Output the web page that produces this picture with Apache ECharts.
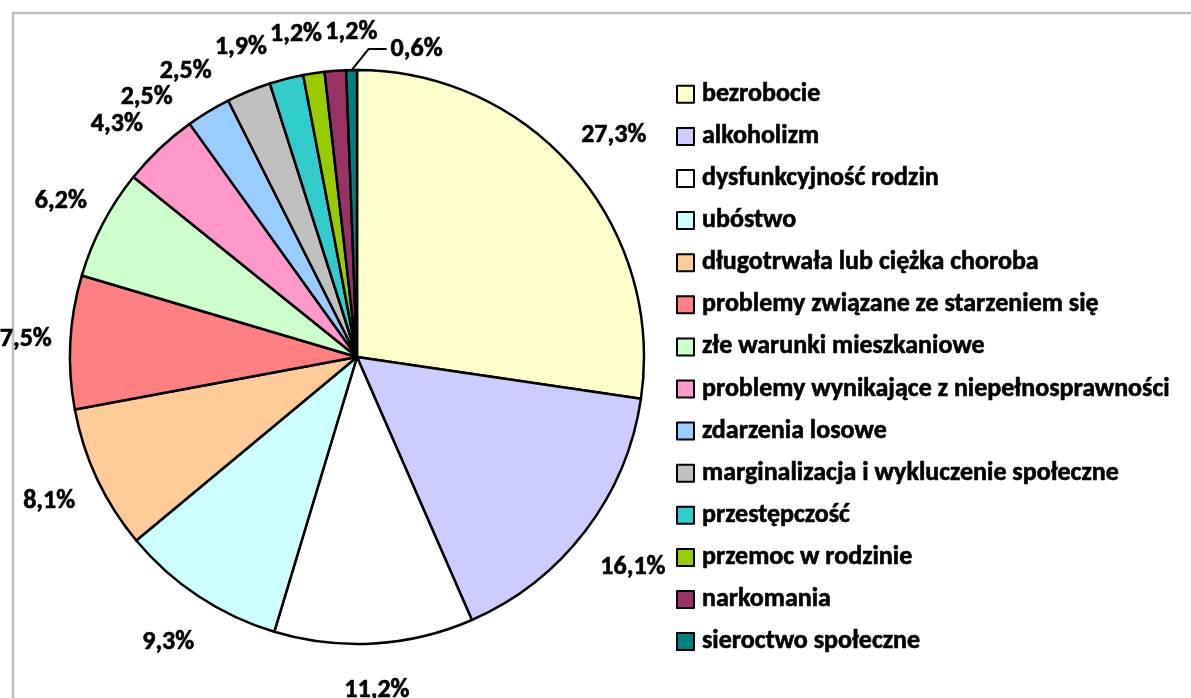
<!DOCTYPE html>
<html>
<head>
<meta charset="utf-8">
<script src="https://cdn.jsdelivr.net/npm/echarts@6/dist/echarts.min.js"></script>
<style>
html,body{margin:0;padding:0;background:#fff;}
#chart{width:1191px;height:698px;}
</style>
</head>
<body>
<div id="chart"></div>
<script>
const categories = [
  'bezrobocie',
  'alkoholizm',
  'dysfunkcyjność rodzin',
  'ubóstwo',
  'długotrwała lub ciężka choroba',
  'problemy związane ze starzeniem się',
  'złe warunki mieszkaniowe',
  'problemy wynikające z niepełnosprawności',
  'zdarzenia losowe',
  'marginalizacja i wykluczenie społeczne',
  'przestępczość',
  'przemoc w rodzinie',
  'narkomania',
  'sieroctwo społeczne'
];
const values = [27.3, 16.1, 11.2, 9.3, 8.1, 7.5, 6.2, 4.3, 2.5, 2.5, 1.9, 1.2, 1.2, 0.6];
const colors = ['#FFFFCC','#CCCCFF','#FFFFFF','#CCFFFF','#FFCC99','#FF8080','#CCFFCC','#FF99CC','#99CCFF','#C0C0C0','#33CCCC','#99CC00','#993366','#008080'];

const FONT = 'Carlito';
const LABEL_SIZE = 26;
const fmt = v => v.toFixed(1).replace('.', ',') + '%';

const chart = echarts.init(document.getElementById('chart'), null, {renderer: 'canvas'});

function buildData(lineFlags) {
  return categories.map((c, i) => ({
    name: c,
    value: values[i],
    itemStyle: {color: colors[i]},
    labelLine: {show: !!(lineFlags && lineFlags[i])}
  }));
}

const option = {
  animation: false,
  backgroundColor: '#fff',
  graphic: [{
    type: 'rect',
    shape: {x: 13, y: 13, width: 1300, height: 800},
    style: {fill: 'none', stroke: '#BFBFBF', lineWidth: 2.5},
    silent: true
  }],
  legend: {
    orient: 'vertical',
    left: 676,
    top: 81,
    padding: 0,
    itemWidth: 17,
    itemHeight: 17,
    itemGap: 15.5,
    icon: 'rect',
    itemStyle: {borderColor: '#000', borderWidth: 2},
    textStyle: {fontFamily: FONT, fontWeight: 'bold', fontSize: 26, color: '#000', lineHeight: 26,
      padding: [0, 0, 0, 3], textBorderColor: '#000', textBorderWidth: 0.6},
    data: categories
  },
  series: [{
    type: 'pie',
    center: [357, 357],
    radius: 287,
    startAngle: 90,
    clockwise: true,
    avoidLabelOverlap: false,
    itemStyle: {borderColor: '#000', borderWidth: 2.5},
    label: {
      show: true,
      position: 'outside',
      formatter: p => fmt(p.value),
      fontFamily: FONT, fontWeight: 'bold', fontSize: LABEL_SIZE, color: '#000',
      textBorderColor: '#000', textBorderWidth: 0.6,
      distanceToLabelLine: 0
    },
    labelLine: {show: false, length: 0, length2: 0, lineStyle: {color: '#000', width: 2}},
    data: buildData(null)
  }]
};
chart.setOption(option);

// Second pass: place labels Excel-style (centered outside the slice, spread apart when crowded),
// using the slice geometry computed by ECharts.
const pos = {};
try {
  const sd = chart.getModel().getSeriesByIndex(0).getData();
  const ctx = document.createElement('canvas').getContext('2d');
  ctx.font = 'bold ' + LABEL_SIZE + 'px ' + FONT;
  const items = [];
  for (let i = 0; i < sd.count(); i++) {
    const L = sd.getItemLayout(i);
    const mid = (L.startAngle + L.endAngle) / 2;
    items.push({
      i, mid, th: mid, fixed: false, extra: 0,
      half: Math.abs(L.endAngle - L.startAngle) / 2,
      hw: ctx.measureText(fmt(values[i])).width / 2,
      hh: 13, cx: L.cx, cy: L.cy, r: L.r
    });
  }
  const place = it => {
    if (it.fixed) return;
    const c = Math.cos(it.th), s = Math.sin(it.th);
    const gap = 18 + 14 * Math.max(0, s) + 6 * Math.pow(Math.max(0, -s), 4);
    const D = it.r + gap + it.hw * Math.abs(c) + it.hh * Math.abs(s);
    it.x = it.cx + D * c; it.y = it.cy + D * s;
  };
  const order = items.slice().sort((a, b) => a.th - b.th);
  const relax = () => {
    for (let iter = 0; iter < 4000; iter++) {
      let moved = false;
      for (let k = 0; k < order.length - 1; k++) {
        const a = order[k], b = order[k + 1];
        if (Math.abs(a.x - b.x) < a.hw + b.hw + a.extra + b.extra + 3 && Math.abs(a.y - b.y) < a.hh + b.hh) {
          const st = 0.002 * ((a.fixed || b.fixed) ? 2 : 1);
          if (!a.fixed) { a.th -= st; place(a); }
          if (!b.fixed) { b.th += st; place(b); }
          moved = true;
        }
      }
      if (!moved) break;
    }
  };
  items.forEach(place);
  relax();
  // labels pushed far from their tiny slice get a leader line with a fixed elbow shape
  const lineFlags = [];
  items.forEach(it => {
    const disp = Math.abs(it.th - it.mid);
    const needLine = disp > 6 * it.half && disp > 0.05;
    lineFlags[it.i] = needLine;
    if (needLine) {
      const ax = it.cx + it.r * Math.cos(it.mid), ay = it.cy + it.r * Math.sin(it.mid);
      const dir = it.x > ax ? 1 : -1;
      const ey = ay - 21;
      it.line = [[ax, ay], [ax + dir * 17, ey], [ax + dir * 35, ey]];
      it.x = ax + dir * (39 + it.hw);
      it.y = ey;
      it.fixed = true;
      it.extra = 10;
    }
  });
  // re-spread the neighbours around the fixed leader labels
  items.forEach(it => { if (!it.fixed) { it.th = it.mid; place(it); } });
  relax();
  items.forEach(it => { pos[it.i] = {x: it.x, y: it.y, line: it.line}; });
  chart.setOption({
    series: [{
      data: buildData(lineFlags),
      labelLayout: function (params) {
        const q = pos[params.dataIndex];
        if (!q) return {};
        const o = {x: q.x, y: q.y, align: 'center', verticalAlign: 'middle'};
        if (q.line) o.labelLinePoints = q.line;
        return o;
      }
    }]
  });
} catch (e) {
  console.error(e);
}
</script>
</body>
</html>
